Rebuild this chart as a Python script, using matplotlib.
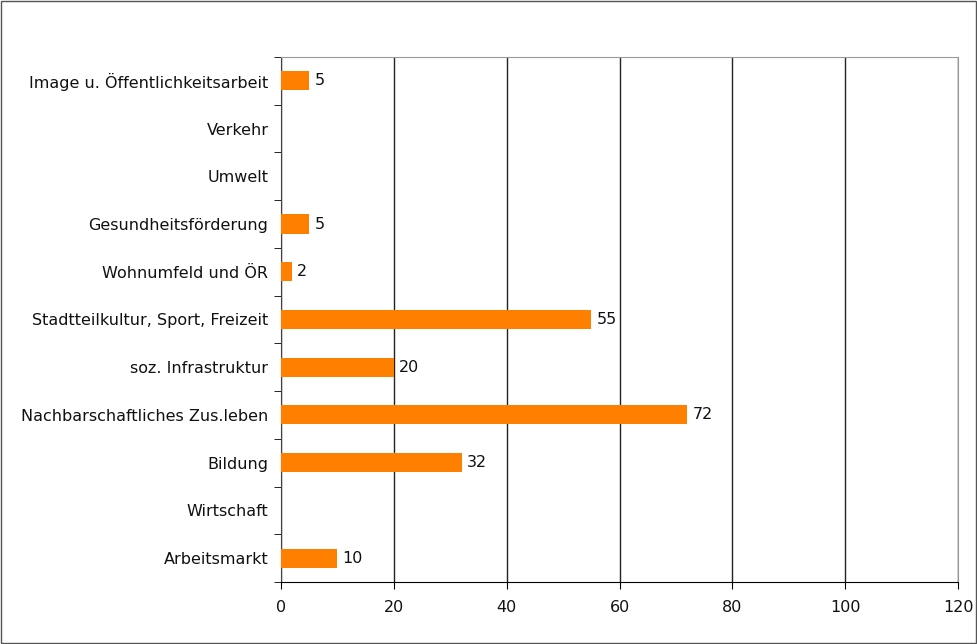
import matplotlib
matplotlib.use("Agg")
import matplotlib.pyplot as plt
import numpy as np
from matplotlib.patches import Rectangle

CATEGORIES = [
    "Arbeitsmarkt",
    "Wirtschaft",
    "Bildung",
    "Nachbarschaftliches Zus.leben",
    "soz. Infrastruktur",
    "Stadtteilkultur, Sport, Freizeit",
    "Wohnumfeld und ÖR",
    "Gesundheitsförderung",
    "Umwelt",
    "Verkehr",
    "Image u. Öffentlichkeitsarbeit",
]
VALUES = [10, 0, 32, 72, 20, 55, 2, 5, 0, 0, 5]
X_TICKS = [0, 20, 40, 60, 80, 100, 120]

plt.rcParams["font.family"] = ["DejaVu Sans"]
plt.rcParams["font.size"] = 11.5

fig = plt.figure(figsize=(9.77, 6.44), dpi=100)
ax = fig.add_axes([0.2876, 0.0963, 0.6932, 0.8152])

y = np.arange(len(CATEGORIES))
ax.barh(y, VALUES, height=0.4, color="#FF8000", zorder=3)
for yi, v in zip(y, VALUES):
    if v > 0:
        ax.text(v + 0.9, yi, str(v), va="center", ha="left", fontsize=11.5, color="#111111")

ax.set_xlim(0, 120)
ax.set_ylim(-0.5, len(CATEGORIES) - 0.5)
ax.set_xticks(X_TICKS)
ax.set_yticks(y)
ax.set_yticklabels(CATEGORIES, color="#111111")
ax.set_yticks(np.arange(-0.5, len(CATEGORIES), 1.0), minor=True)
ax.tick_params(axis="y", which="major", length=0, pad=9)
ax.tick_params(axis="y", which="minor", length=5, color="black")
ax.tick_params(axis="x", length=5, pad=8, labelcolor="#111111")
ax.grid(axis="x", color="#222222", linewidth=1.0, zorder=0)

for side in ["top", "right"]:
    ax.spines[side].set_color("#999999")
ax.spines["left"].set_color("#444444")
ax.spines["bottom"].set_color("black")

fig.patches.append(Rectangle((0.001, 0.001), 0.998, 0.998, transform=fig.transFigure,
                             fill=False, edgecolor="#555555", linewidth=1.0))

fig.savefig("out.png", dpi=100)
